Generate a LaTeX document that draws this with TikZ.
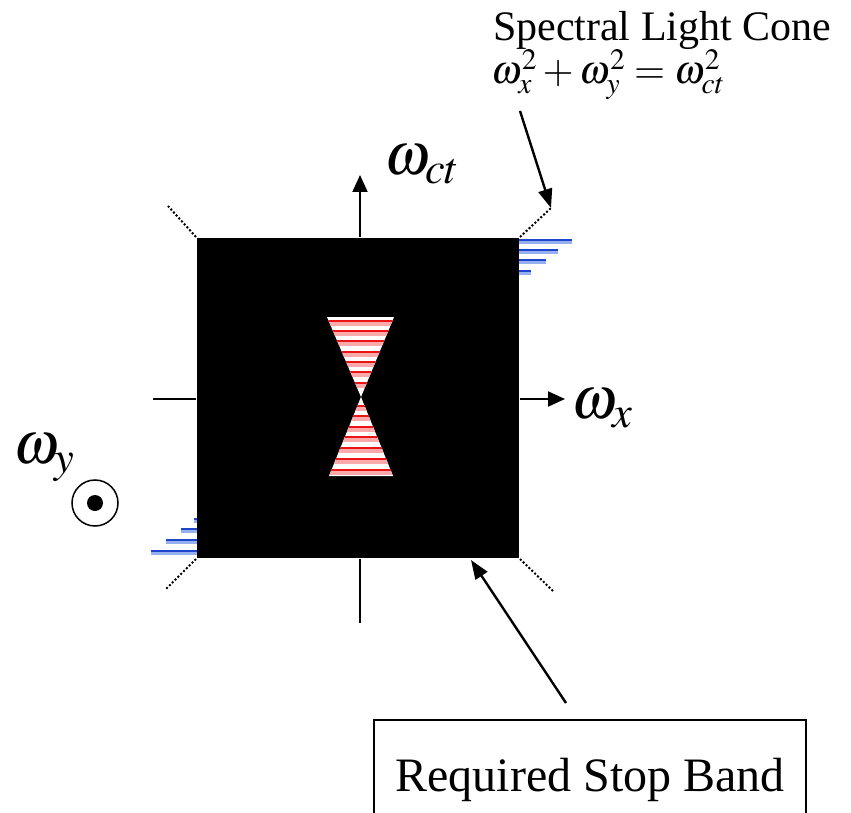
\documentclass[tikz,border=0pt]{standalone}
\usepackage{mathptmx}
\usepackage{fontspec}
\setmainfont{Liberation Serif}
\usetikzlibrary{arrows.meta}
\begin{document}
\begin{tikzpicture}[x=1pt,y=-1pt,line width=2pt]
\definecolor{coneblue}{RGB}{30,70,205}
\definecolor{conepale}{RGB}{150,175,240}
\definecolor{stopred}{RGB}{235,20,20}
\definecolor{stoppale}{RGB}{250,170,170}
\providecommand{\ftitle}{\fontsize{42}{48}\selectfont}
\providecommand{\feq}{\fontsize{40}{44}\selectfont}
\providecommand{\fomega}{\fontsize{60}{66}\selectfont}
\providecommand{\fboxed}{\fontsize{48}{54}\selectfont}
\tikzset{axis/.style={-{Triangle[length=17pt,width=15pt]},line width=2pt,draw=black},pointer/.style={-{Triangle[length=19pt,width=14pt]},line width=2.4pt,draw=black},coneedge/.style={dotted,line width=2pt},blueline/.style={draw=coneblue,line width=2.2pt},bluehalo/.style={draw=conepale,line width=4.5pt},redline/.style={draw=stopred,line width=2.2pt},redhalo/.style={draw=stoppale,line width=5pt}}
\useasboundingbox (0,0) rectangle (851,813);
\clip (0,0) rectangle (851,813);
\node[fill=black,inner sep=0pt,minimum width=322pt,minimum height=320pt] (band) at (358,398) {};
\coordinate (ctTop) at (360,175);
\coordinate (ctBot) at (360,623);
\coordinate (xRight) at (565,399);
\coordinate (xLeft) at (153,399);
\draw[axis] (band.north -| ctTop) -- (ctTop);
\draw (band.south -| ctBot) -- (ctBot);
\draw[axis] (band.east |- xRight) -- (xRight);
\draw (xLeft) -- (band.west |- xLeft);
\node[anchor=base west,inner sep=0pt,font=\fomega] (wct) at (383,175) {$\omega_{ct}$};
\node[anchor=base west,inner sep=0pt,font=\fomega] (wx) at (570,418) {$\omega_{x}$};
\node[anchor=base west,inner sep=0pt,font=\fomega] (wy) at (12,463) {$\omega_{y}$};
\node[draw,circle,line width=1.5pt,minimum size=46pt,inner sep=0pt] (ydir) at (95,503) {};
\fill (ydir.center) circle (8pt);
\coordinate (coneNW) at (168,206);
\coordinate (coneNE) at (551,208);
\coordinate (coneSW) at (165,590);
\coordinate (coneSE) at (553,591);
\draw[coneedge] (band.north west) -- (coneNW);
\draw[coneedge] (band.north east) -- (coneNE);
\draw[coneedge] (band.south west) -- (coneSW);
\draw[coneedge] (band.south east) -- (coneSE);
\draw[bluehalo] (519,242) -- (572,242);
\draw[bluehalo] (519,252) -- (558,252);
\draw[bluehalo] (519,262) -- (546,262);
\draw[bluehalo] (519,273) -- (531,273);
\draw[blueline] (519,240) -- (572,240);
\draw[blueline] (519,250) -- (558,250);
\draw[blueline] (519,260) -- (546,260);
\draw[blueline] (519,271) -- (531,271);
\draw[bluehalo] (151,553) -- (197,553);
\draw[bluehalo] (166,542) -- (197,542);
\draw[bluehalo] (181,531) -- (197,531);
\draw[bluehalo] (194,521) -- (197,521);
\draw[blueline] (151,551) -- (197,551);
\draw[blueline] (166,540) -- (197,540);
\draw[blueline] (181,529) -- (197,529);
\draw[blueline] (194,519) -- (197,519);
% light cone cut through the band
\coordinate (apex) at (361,397);
\fill[white] (327,317) -- (394,317) -- (apex) -- cycle;
\fill[white] (apex) -- (393,476) -- (329,476) -- cycle;
\begin{scope}
\clip (327,317) -- (394,317) -- (apex) -- (393,476) -- (329,476) -- (apex) -- cycle;
\draw[redhalo] (320,323) -- (400,323);
\draw[redhalo] (320,333) -- (400,333);
\draw[redhalo] (320,343) -- (400,343);
\draw[redhalo] (320,354) -- (400,354);
\draw[redhalo] (320,364) -- (400,364);
\draw[redhalo] (320,374) -- (400,374);
\draw[redhalo] (320,385) -- (400,385);
\draw[redhalo] (320,408) -- (400,408);
\draw[redhalo] (320,418) -- (400,418);
\draw[redhalo] (320,429) -- (400,429);
\draw[redhalo] (320,439) -- (400,439);
\draw[redhalo] (320,450) -- (400,450);
\draw[redhalo] (320,461) -- (400,461);
\draw[redhalo] (320,472) -- (400,472);
\draw[redline] (320,321) -- (400,321);
\draw[redline] (320,331) -- (400,331);
\draw[redline] (320,341) -- (400,341);
\draw[redline] (320,352) -- (400,352);
\draw[redline] (320,362) -- (400,362);
\draw[redline] (320,372) -- (400,372);
\draw[redline] (320,383) -- (400,383);
\draw[redline] (320,406) -- (400,406);
\draw[redline] (320,416) -- (400,416);
\draw[redline] (320,427) -- (400,427);
\draw[redline] (320,437) -- (400,437);
\draw[redline] (320,448) -- (400,448);
\draw[redline] (320,459) -- (400,459);
\draw[redline] (320,470) -- (400,470);
\end{scope}
\node[anchor=base west,inner sep=0pt,font=\ftitle] (cone) at (492,41) {Spectral Light Cone};
\node[anchor=base west,inner sep=0pt,font=\feq] (eq) at (490,84) {$\omega_{x}^{2}+\omega_{y}^{2}=\omega_{ct}^{2}$};
\draw[pointer] ([xshift=30pt,yshift=-10pt]eq.south west) -- (coneNE);
\node[draw,line width=2pt,anchor=north,minimum width=432pt,minimum height=120pt,inner sep=0pt,font=\fboxed] (stopbox) at (590,719) {Required Stop Band};
\coordinate (stopTip) at (471,560);
\draw[pointer] ([xshift=-24pt,yshift=16pt]stopbox.north) -- (stopTip);
\end{tikzpicture}
\end{document}
